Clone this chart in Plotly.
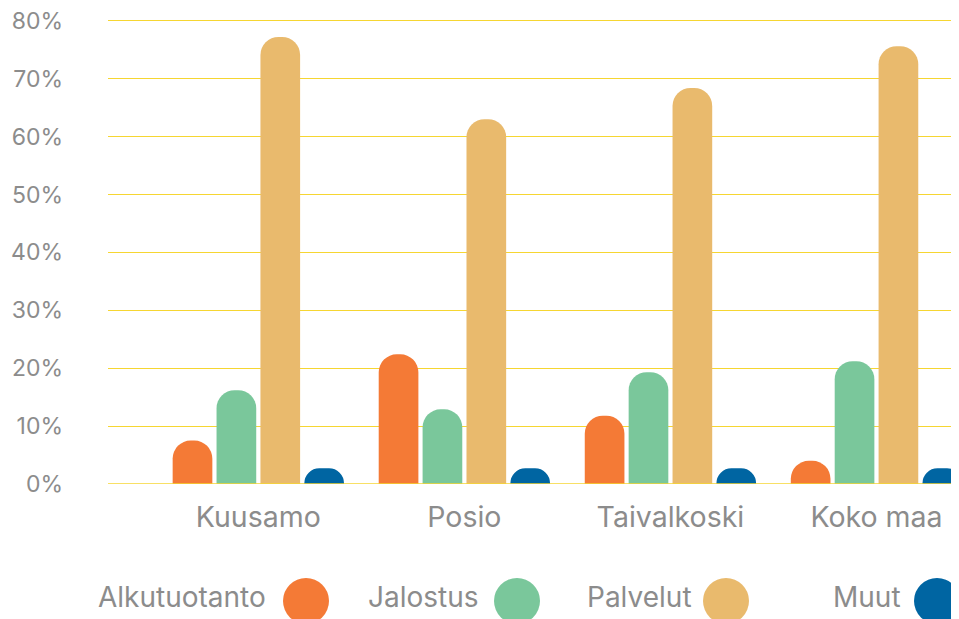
import plotly.graph_objects as go

categories = ["Kuusamo", "Posio", "Taivalkoski", "Koko maa"]
series_names = ["Alkutuotanto", "Jalostus", "Palvelut", "Muut"]
alkutuotanto = [7.5, 22.4, 11.8, 4.0]
jalostus = [16.2, 12.9, 19.3, 21.2]
palvelut = [77.2, 63.0, 68.4, 75.6]
muut = [2.7, 2.7, 2.7, 2.7]
y_ticks = [0, 10, 20, 30, 40, 50, 60, 70, 80]
y_tick_labels = [f"{v}%" for v in y_ticks]

colors = ["#F47A36", "#7AC79B", "#E9BA6D", "#0065A2"]
values = [alkutuotanto, jalostus, palvelut, muut]

# The page body has an 8px margin, so the figure is drawn 8px in from the top-left.
OFF = 8
W, H = 959 - OFF, 619 - OFF
Y_TOP = 80.3
PX_PER_UNIT = (484 - 20.3) / 80
plot_top_page = 20.3 - (Y_TOP - 80) * PX_PER_UNIT
ML, MR, MB = 108 - OFF, 0, 135
MT = plot_top_page - OFF
PW = W - ML - MR
PH = H - MT - MB

def px_x(px):
    return (px - OFF - ML) / PW

def px_y(py):
    return (H - MB - (py - OFF)) / PH

grey = "#8C8C8C"
font_family = "Inter, Roboto, sans-serif"

fig = go.Figure()
for name, vals, col in zip(series_names, values, colors):
    fig.add_trace(go.Bar(
        x=categories, y=vals, name=name,
        marker=dict(color=col, line=dict(width=0), cornerradius=18),
        showlegend=False,
        hovertemplate="%{x}<br>" + name + ": %{y}%<extra></extra>",
    ))

fig.update_layout(
    width=W, height=H,
    margin=dict(l=ML, r=MR, t=MT, b=MB, pad=0),
    paper_bgcolor="white", plot_bgcolor="white",
    barmode="group", bargap=0.148, bargroupgap=0.096,
    font=dict(family=font_family, color=grey),
    xaxis=dict(
        type="category",
        range=[-0.7296, 3.4005],
        showgrid=False, zeroline=False, showline=False,
        ticks="", tickfont=dict(size=28.5, color=grey),
        ticklabelstandoff=13,
    ),
    yaxis=dict(
        range=[0, Y_TOP],
        tickvals=y_ticks, ticktext=y_tick_labels,
        showgrid=True, gridcolor="#F6D632", gridwidth=1.2,
        zeroline=False, showline=False,
        ticks="", tickfont=dict(size=23, color=grey),
        ticklabelstandoff=44, ticklabeloverflow="allow",
    ),
)
fig.add_hline(y=0, line=dict(color="#F6D632", width=1.5), layer="above")

# Custom legend: text followed by a circle (page-pixel positions)
legend_text_right = [268, 481, 694, 903]
legend_circle_cx = [306, 517, 726, 937]
legend_text_y = 597
legend_circle_y = 601
for name, col, tx, cx in zip(series_names, colors, legend_text_right, legend_circle_cx):
    fig.add_annotation(
        x=px_x(tx), y=px_y(legend_text_y), xref="paper", yref="paper",
        text=name, showarrow=False, xanchor="right", yanchor="middle",
        font=dict(size=28, color=grey, family=font_family),
    )
    fig.add_shape(
        type="circle", xref="paper", yref="paper",
        xsizemode="pixel", ysizemode="pixel",
        xanchor=px_x(cx), yanchor=px_y(legend_circle_y),
        x0=-23, x1=23, y0=-23, y1=23,
        fillcolor=col, line=dict(width=0),
    )

fig.write_html("out.html")
